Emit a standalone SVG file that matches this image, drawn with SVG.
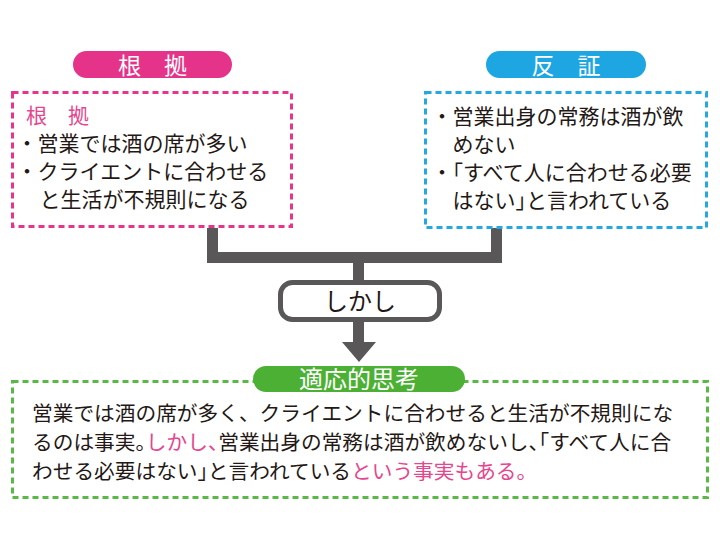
<svg xmlns="http://www.w3.org/2000/svg" width="720" height="540" viewBox="0 0 720 540">
<style>
text{font-family:"Noto Sans CJK JP","Noto Sans CJK SC",sans-serif;}
.t{font-size:21px;fill:#231815;}
.g{font-size:20.7px;fill:#231815;}
.pk{fill:#e5468e;}
.h{font-feature-settings:"halt";}
.lbl{font-size:23px;fill:#ffffff;text-anchor:middle;}
.dot{text-anchor:middle;}
.dash{fill:none;stroke-width:3;stroke-dasharray:6 4;}
</style>
<rect width="720" height="540" fill="#ffffff"/>
<g id="connectors" stroke="#595757" fill="none">
<polyline points="212.5,228 212.5,257.5 496.5,257.5 496.5,228" stroke-width="11" stroke-linejoin="miter"/>
<line x1="358.5" y1="257" x2="358.5" y2="283" stroke-width="11"/>
<line x1="358.5" y1="320" x2="358.5" y2="344" stroke-width="11"/>
<polygon points="342,342 376,342 359,362" fill="#595757" stroke="none"/>
</g>
<g id="label-konkyo">
<rect x="73" y="51" width="159" height="27" rx="13.5" fill="#e5338a"/>
<text class="lbl" x="152.5" y="73.5">根　拠</text>
</g>
<g id="box-konkyo">
<rect class="dash" x="12.5" y="92.5" width="279" height="134" stroke="#e8348a"/>
<text class="t pk" x="26" y="123">根　拠</text>
<text class="t dot" x="27" y="151">・</text>
<text class="t" x="37.5" y="151">営業では酒の席が多い</text>
<text class="t dot" x="27" y="179">・</text>
<text class="t" x="37.5" y="179">クライエントに合わせる</text>
<text class="t" x="39.5" y="207">と生活が不規則になる</text>
</g>
<g id="label-hansho">
<rect x="486" y="51" width="160" height="27" rx="13.5" fill="#1ea6e2"/>
<text class="lbl" x="566" y="73.5">反　証</text>
</g>
<g id="box-hansho">
<rect class="dash" x="425.5" y="92.5" width="281" height="135" stroke="#24a8e0"/>
<text class="t dot" x="442" y="124">・</text>
<text class="t" x="452.5" y="124">営業出身の常務は酒が飲</text>
<text class="t" x="452.5" y="152">めない</text>
<text class="t dot" x="442" y="180">・</text>
<text class="t" x="452.5" y="180"><tspan class="h">「</tspan>すべて人に合わせる必要</text>
<text class="t" x="452.5" y="208">はない<tspan class="h">」</tspan>と言われている</text>
</g>
<g id="node-shikashi">
<rect x="280.5" y="282.5" width="159" height="37" rx="12" fill="#ffffff" stroke="#595757" stroke-width="5"/>
<text x="360" y="310" font-size="24" fill="#231815" text-anchor="middle">しかし</text>
</g>
<g id="box-tekio">
<rect class="dash" x="12.5" y="381.5" width="695" height="116" stroke="#5ab946"/>
<text class="g" x="32" y="421">営業では酒の席が多く、クライエントに合わせると生活が不規則にな</text>
<text class="g" x="32" y="450">るのは事実<tspan class="h">。</tspan><tspan class="pk">しかし<tspan class="h">、</tspan></tspan>営業出身の常務は酒が飲めないし<tspan class="h">、</tspan>「すべて人に合</text>
<text class="g" x="32" y="479">わせる必要はない<tspan class="h">」</tspan>と言われている<tspan class="pk">という事実もある。</tspan></text>
</g>
<g id="label-tekio">
<rect x="253" y="366" width="212" height="26" rx="13" fill="#4cb035"/>
<text x="359" y="388" font-size="24" fill="#ffffff" text-anchor="middle">適応的思考</text>
</g>
</svg>
